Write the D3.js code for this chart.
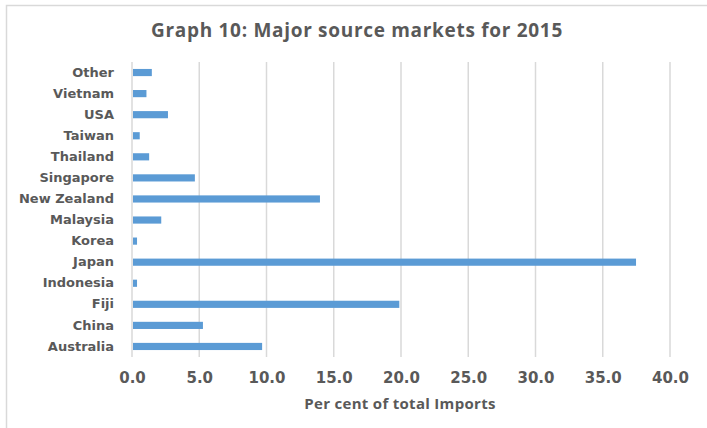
<!DOCTYPE html>
<html>
<head>
<meta charset="utf-8">
<script src="https://cdn.jsdelivr.net/npm/d3@7"></script>
<style>
  body { margin: 0; background: #fff; }
  text { fill: #595959; font-weight: bold; }
</style>
</head>
<body>
<script>
"use strict";

(function() {

// top to bottom, as in the chart
let countries = ['Other', 'Vietnam', 'USA', 'Taiwan', 'Thailand', 'Singapore', 'New Zealand',
    'Malaysia', 'Korea', 'Japan', 'Indonesia', 'Fiji', 'China', 'Australia'];
let shares = [1.4, 1.0, 2.6, 0.5, 1.2, 4.6, 13.9, 2.1, 0.3, 37.4, 0.3, 19.8, 5.2, 9.6];
let tickValues = [0, 5, 10, 15, 20, 25, 30, 35, 40];

let W = 707, H = 428;
let margins = {top: 62, right: 37, bottom: 71, left: 132};
let width = W - margins.left - margins.right;
let height = H - margins.top - margins.bottom;

let svg = d3.select('body')
    .append('svg')
    .attr('width', W)
    .attr('height', H);

// chart frame, cut off at right and bottom
svg.append('rect')
    .attr('x', 6.5)
    .attr('y', 5.5)
    .attr('width', W + 10)
    .attr('height', H + 10)
    .attr('fill', 'none')
    .attr('stroke', '#d9d9d9')
    .attr('stroke-width', 1.5);

svg.append('text')
    .attr('x', 357)
    .attr('y', 37)
    .attr('text-anchor', 'middle')
    .style('font-family', 'Open Sans, sans-serif')
    .style('font-size', '19px')
    .style('letter-spacing', '0.7px')
    .text('Graph 10: Major source markets for 2015');

let g = svg.append('g')
    .attr('transform', 'translate(' + margins.left + ',' + margins.top + ')');

let x = d3.scaleLinear()
    .domain([0, 40])
    .range([0, width]);

let y = d3.scaleBand()
    .domain(countries)
    .range([0, height])
    .paddingInner(0.66)
    .paddingOuter(0.33);

// gridlines
g.selectAll('.grid')
    .data(tickValues)
    .enter()
    .append('line')
    .attr('class', 'grid')
    .attr('x1', function(d) { return x(d); })
    .attr('x2', function(d) { return x(d); })
    .attr('y1', 0)
    .attr('y2', height)
    .attr('stroke', '#d9d9d9')
    .attr('stroke-width', 1.5);

g.selectAll('.bar')
    .data(shares)
    .enter()
    .append('rect')
    .attr('class', 'bar')
    .attr('x', x(0) + 1)
    .attr('y', function(d, i) { return y(countries[i]); })
    .attr('width', function(d) { return x(d) - x(0); })
    .attr('height', y.bandwidth())
    .attr('fill', '#5b9bd5');

let yAxis = g.append('g')
    .call(d3.axisLeft(y).tickSize(0).tickPadding(18));
yAxis.select('.domain').remove();
yAxis.selectAll('text')
    .style('font-family', 'DejaVu Sans, sans-serif')
    .style('font-size', '13px')
    .style('fill', '#595959');

let xAxis = g.append('g')
    .attr('transform', 'translate(0,' + height + ')')
    .call(d3.axisBottom(x).tickValues(tickValues).tickFormat(d3.format('.1f')).tickSize(0).tickPadding(15));
xAxis.select('.domain').remove();
xAxis.selectAll('text')
    .style('font-family', 'DejaVu Sans, sans-serif')
    .style('font-size', '15px')
    .style('fill', '#595959');

svg.append('text')
    .attr('x', 400)
    .attr('y', 409)
    .attr('text-anchor', 'middle')
    .style('font-family', 'Open Sans, sans-serif')
    .style('font-size', '15px')
    .style('letter-spacing', '0.3px')
    .text('Per cent of total Imports');

})();
</script>
</body>
</html>
